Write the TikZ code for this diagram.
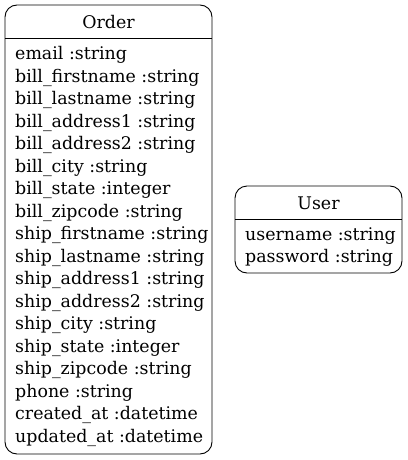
\documentclass[tikz,border=0pt]{standalone}
\usepackage{fontspec}
\setmainfont{DejaVu Serif}

\begin{document}
\begin{tikzpicture}[x=1pt,y=-1pt,
    table/.style={draw,line width=0.9pt,rounded corners=12pt},
    field/.style={anchor=west,inner sep=0pt,font=\fontsize{17.4}{20}\selectfont},
    title/.style={inner sep=0pt,font=\fontsize{17.4}{20}\selectfont}]
    \useasboundingbox (0,0) rectangle (407,460);
    % Order table
    \draw[table] (5,5) rectangle (212,454);
    \coordinate (orderL) at (5,38);
    \coordinate (orderR) at (212,38);
    \draw[line width=0.9pt] (orderL) -- (orderR);
    \node[title] (order) at (108.5,22.5) {Order};
    \foreach \i/\A in {0/email :string,1/bill\_firstname :string,2/bill\_lastname :string,
            3/bill\_address1 :string,4/bill\_address2 :string,5/bill\_city :string,
            6/bill\_state :integer,7/bill\_zipcode :string,8/ship\_firstname :string,
            9/ship\_lastname :string,10/ship\_address1 :string,11/ship\_address2 :string,
            12/ship\_city :string,13/ship\_state :integer,14/ship\_zipcode :string,
            15/phone :string,16/created\_at :datetime,17/updated\_at :datetime} {
        \node[field] (order\i) at (15,55+22.5*\i) {\A};
    }
    % User table
    \draw[table] (235,186) rectangle (402,273);
    \coordinate (userL) at (235,219);
    \coordinate (userR) at (402,219);
    \draw[line width=0.9pt] (userL) -- (userR);
    \node[title] (user) at (318.5,203.5) {User};
    \node[field] (user0) at (245,236) {username :string};
    \node[field] (user1) at (245,258) {password :string};
\end{tikzpicture}
\end{document}
